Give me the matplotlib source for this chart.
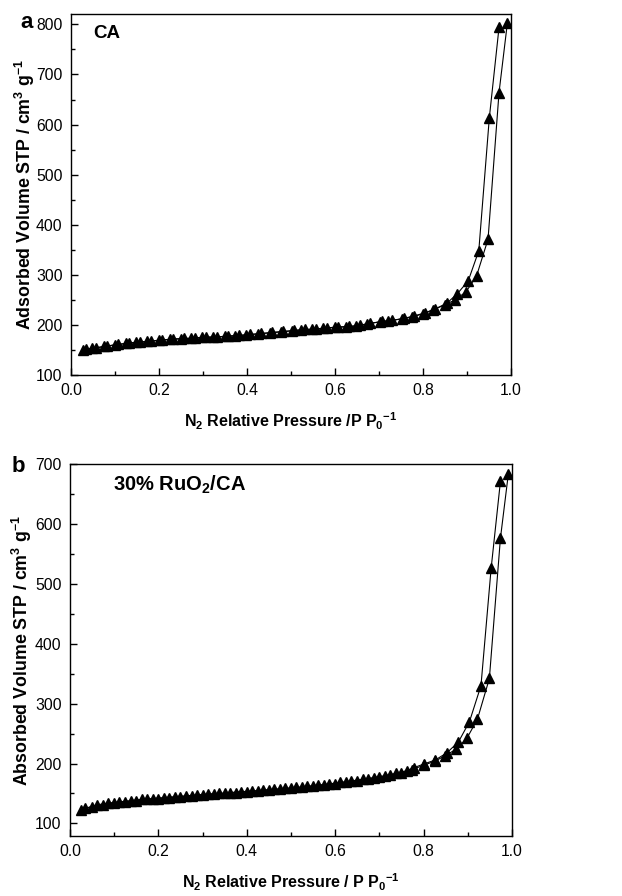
import matplotlib
matplotlib.use('Agg')
import matplotlib.pyplot as plt
from matplotlib.ticker import MultipleLocator, FormatStrFormatter

plt.rcParams['font.family'] = ['Liberation Sans', 'DejaVu Sans']
plt.rcParams['mathtext.fontset'] = 'custom'
plt.rcParams['mathtext.rm'] = 'Liberation Sans:bold'
plt.rcParams['mathtext.it'] = 'Liberation Sans:bold'
plt.rcParams['mathtext.bf'] = 'Liberation Sans:bold'

# panel a : CA
a_ads_p = [0.028, 0.049, 0.075, 0.100, 0.125, 0.149, 0.174, 0.201, 0.225, 0.250,
           0.274, 0.297, 0.323, 0.350, 0.373, 0.399, 0.426, 0.452, 0.477, 0.502,
           0.524, 0.549, 0.573, 0.600, 0.626, 0.649, 0.672, 0.702, 0.721, 0.752,
           0.776, 0.800, 0.823, 0.850, 0.873, 0.898, 0.922, 0.948, 0.973, 0.992]
a_ads_v = [150, 153, 157, 160, 163, 165, 167, 169, 171, 172,
           173, 175, 175, 177, 178, 180, 182, 184, 186, 188,
           190, 191, 193, 195, 196, 198, 202, 206, 208, 212,
           216, 222, 230, 240, 250, 266, 298, 371, 664, 803]
a_des_p = [0.973, 0.951, 0.927, 0.903, 0.878, 0.854, 0.828, 0.805, 0.780, 0.757,
           0.730, 0.708, 0.680, 0.657, 0.633, 0.608, 0.582, 0.557, 0.532, 0.508,
           0.483, 0.458, 0.433, 0.408, 0.383, 0.358, 0.333, 0.308, 0.283, 0.258,
           0.233, 0.208, 0.183, 0.158, 0.133, 0.108, 0.083, 0.057, 0.035]
a_des_v = [794, 614, 348, 288, 262, 243, 232, 224, 218, 213,
           209, 207, 203, 199, 197, 196, 194, 192, 191, 189,
           187, 185, 183, 181, 179, 178, 176, 176, 174, 173,
           172, 170, 168, 166, 164, 161, 158, 154, 151]

# panel b : 30% RuO2/CA
b_ads_p = [0.025, 0.050, 0.075, 0.100, 0.125, 0.150, 0.175, 0.200, 0.225, 0.250,
           0.275, 0.300, 0.325, 0.350, 0.375, 0.400, 0.425, 0.450, 0.475, 0.500,
           0.525, 0.550, 0.575, 0.600, 0.625, 0.650, 0.675, 0.700, 0.725, 0.750,
           0.775, 0.800, 0.826, 0.849, 0.874, 0.898, 0.922, 0.949, 0.974, 0.992]
b_ads_v = [123, 128, 131, 134, 136, 138, 140, 141.5, 143, 144.5,
           146, 147.5, 149, 150, 151.5, 153, 154.5, 156, 157, 158.5,
           160, 162, 164, 166, 168.5, 171, 174, 177, 180, 184,
           190, 197, 204, 213, 224, 242, 274, 342, 576, 684]
b_des_p = [0.974, 0.953, 0.930, 0.904, 0.879, 0.853, 0.827, 0.800, 0.778, 0.762,
           0.737, 0.712, 0.687, 0.662, 0.637, 0.612, 0.587, 0.562, 0.537, 0.512,
           0.487, 0.462, 0.437, 0.412, 0.387, 0.362, 0.337, 0.312, 0.287, 0.262,
           0.237, 0.212, 0.187, 0.162, 0.137, 0.112, 0.087, 0.062, 0.034]
b_des_v = [671, 526, 330, 270, 236, 218, 206, 199, 193, 188,
           183.5, 179.5, 176.5, 173.5, 171, 168.5, 166, 164, 162, 160,
           158.5, 157, 155.5, 154, 153, 151.5, 150, 149, 147.5, 146,
           144.5, 143, 141.5, 140, 138, 136, 134, 131, 125]

fig = plt.figure(figsize=(6.22, 8.96), dpi=100)
ax1 = fig.add_axes([0.114, 0.5815, 0.7074, 0.403])
ax2 = fig.add_axes([0.1125, 0.067, 0.7105, 0.415])

def style(ax, ylim, xlabel, ylabel, ylab_x):
    ax.set_xlim(0, 1.0)
    ax.set_ylim(*ylim)
    ax.xaxis.set_major_locator(MultipleLocator(0.2))
    ax.xaxis.set_minor_locator(MultipleLocator(0.1))
    ax.yaxis.set_major_locator(MultipleLocator(100))
    ax.yaxis.set_minor_locator(MultipleLocator(50))
    ax.xaxis.set_major_formatter(FormatStrFormatter('%.1f'))
    ax.tick_params(which='major', direction='in', length=5, width=1, labelsize=11.3,
                   top=False, right=False, pad=6)
    ax.tick_params(which='minor', direction='in', length=3, width=1, top=False, right=False)
    for s in ax.spines.values():
        s.set_linewidth(1)
    ax.set_xlabel(xlabel, fontsize=11.5, fontweight='bold', labelpad=9)
    ax.set_ylabel(ylabel, fontsize=12.8, fontweight='bold')
    ax.yaxis.set_label_coords(ylab_x, 0.5)

for ax, ap, av, dp, dv in [(ax1, a_ads_p, a_ads_v, a_des_p, a_des_v),
                           (ax2, b_ads_p, b_ads_v, b_des_p, b_des_v)]:
    ax.plot(ap, av, '-', color='black', linewidth=0.8, marker='^', markersize=7.5,
            markerfacecolor='black', markeredgecolor='black')
    ax.plot(dp, dv, '-', color='black', linewidth=0.8, marker='^', markersize=7.5,
            markerfacecolor='black', markeredgecolor='black')

style(ax1, (100, 821), r'N$_2$ Relative Pressure /P P$_0$$^{-1}$',
      r'Adsorbed Volume STP / cm$^3$ g$^{-1}$', -0.078)
style(ax2, (79, 700), r'N$_2$ Relative Pressure / P P$_0$$^{-1}$',
      r'Absorbed Volume STP / cm$^3$ g$^{-1}$', -0.082)

ax1.text(0.05, 0.968, 'CA', transform=ax1.transAxes, fontsize=13.5, fontweight='bold',
         va='top', ha='left')
ax2.text(0.097, 0.975, r'30% RuO$_2$/CA', transform=ax2.transAxes, fontsize=14.5,
         fontweight='bold', va='top', ha='left')

fig.text(0.042, 0.975, 'a', fontsize=16, fontweight='bold', ha='center', va='center')
fig.text(0.029, 0.479, 'b', fontsize=16, fontweight='bold', ha='center', va='center')

fig.savefig('out.png', dpi=100)
